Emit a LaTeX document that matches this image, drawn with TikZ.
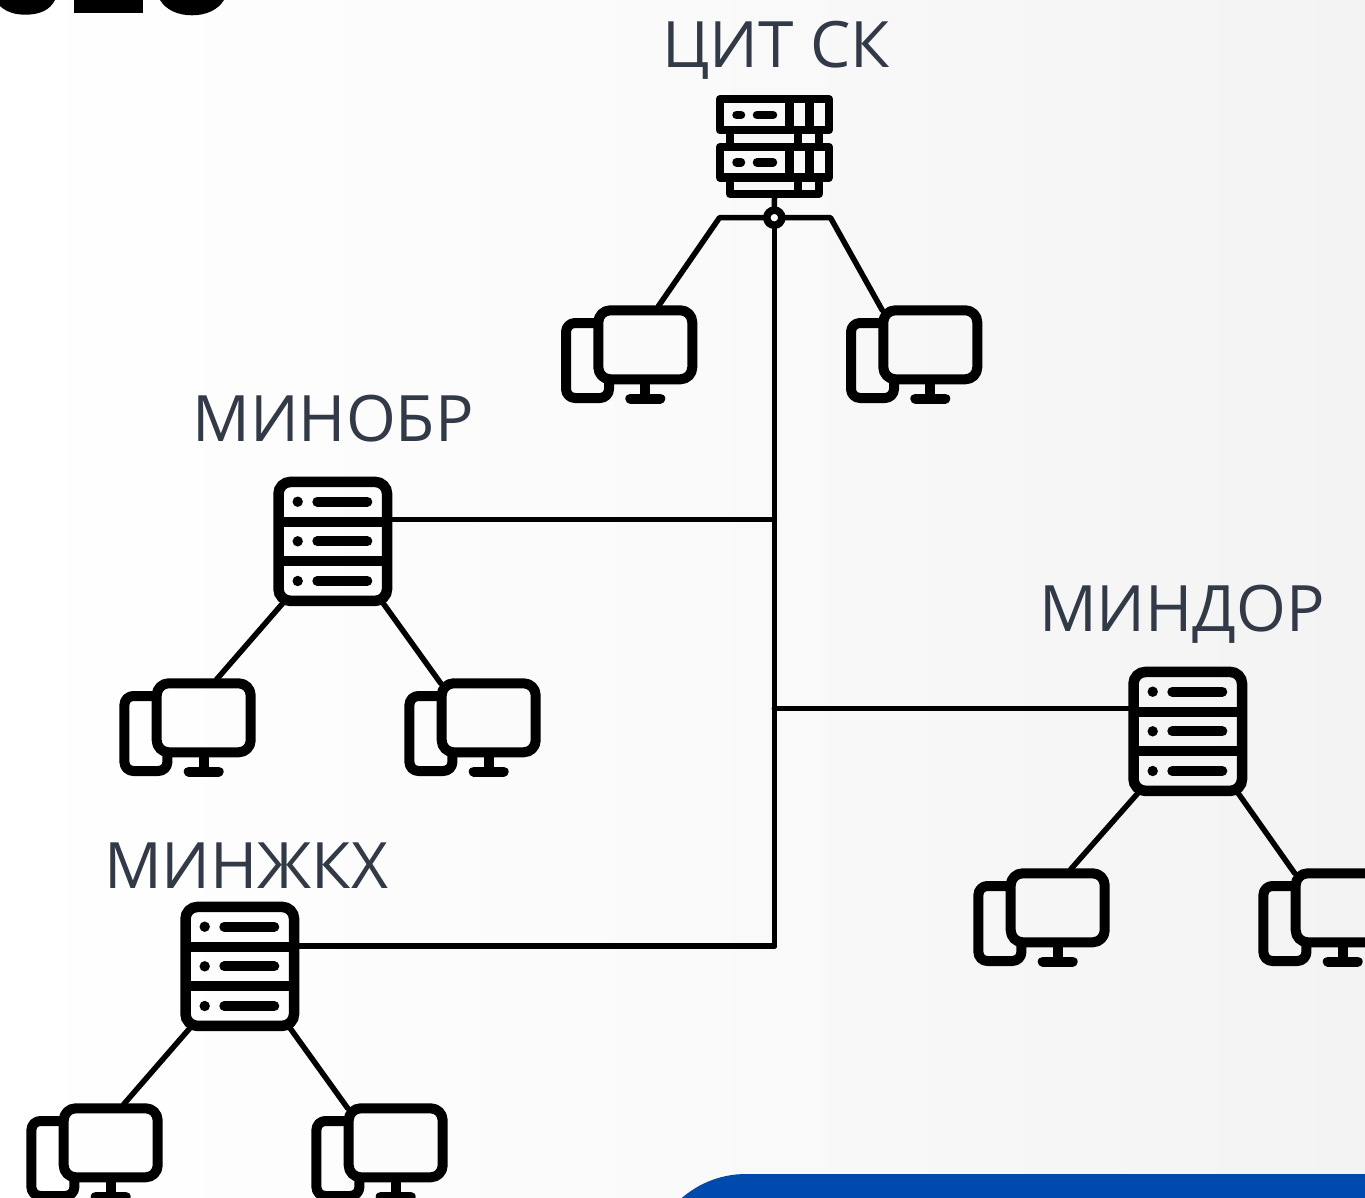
\documentclass[tikz,border=0pt]{standalone}
\usepackage{fontspec}
\setmainfont{Open Sans}
\definecolor{labelcol}{HTML}{333A47}
\definecolor{panelblue}{HTML}{004AAD}
\definecolor{bgright}{HTML}{F3F3F3}
\definecolor{bgmid}{HTML}{FAFAFA}
\tikzset{
  iconline/.style={line width=10pt,black,line join=round},
  thinicon/.style={line width=8.5pt,black},
  pillbar/.style={line width=10pt,black,line cap=round},
  wire/.style={line width=5.5pt,black,line cap=round,line join=round},
  lab/.style={font=\fontsize{64}{70}\selectfont,text=labelcol,inner sep=0pt,anchor=base},
  iconbox/.style={inner sep=0pt,outer sep=0pt,draw=none},
  computer/.pic={
    \draw[iconline,rounded corners=12pt] (5,5) rectangle (99,74);
    \draw[iconline,rounded corners=9pt] (5,17.7) -- (-27.3,17.7) -- (-27.3,92.7) -- (15.7,92.7) -- (15.7,76);
    \draw[iconline] (52,79) -- (52,93);
    \draw[iconline,line cap=round] (37,93.2) -- (67,93.2);
    \coordinate (-in1) at (65,1);
    \coordinate (-in2) at (4,5);
  },
  serverthree/.pic={
    \draw[line width=10.5pt,rounded corners=12pt] (5.2,5.2) rectangle (113.8,124.2);
    \draw[line width=10pt] (5.2,45) -- (113.8,45) (5.2,84.3) -- (113.8,84.3);
    \foreach \yy in {25,64.6,104.3}{
      \fill (24.4,\yy) circle (5.2);
      \draw[pillbar] (44,\yy) -- (94,\yy);
    }
    \coordinate (-e) at (118,42.8);
    \coordinate (-w) at (1,42);
    \coordinate (-dl) at (9.7,126.3);
    \coordinate (-dr) at (109.7,126.3);
  }
}
\begin{document}
\begin{tikzpicture}[x=1pt,y=-1pt]
\useasboundingbox (0,0) rectangle (1365,1198);
\clip (0,0) rectangle (1365,1198);
\shade[left color=white,right color=bgright,middle color=bgmid] (0,0) rectangle (1365,1198);

% clipped title remnants at the top edge
\fill[black] (-6,-2) .. controls (0,10) and (12,14.7) .. (25,14.7) .. controls (40,14.7) and (50,10) .. (55,0) -- (55,-2) -- cycle;
\fill[black] (73.7,-2) rectangle (142.7,13.3);
\fill[black] (160,0) .. controls (166,10) and (178,15.3) .. (192,15.3) .. controls (206,15.3) and (218,10) .. (224,0) -- (224,-2) -- (160,-2) -- cycle;

% blue panel
\fill[panelblue] (1365,1174) -- (746,1174) arc[start angle=270,end angle=180,radius=98] -- (1365,1272) -- cycle;

% labels
\node[lab] (tCit) at (776,68) {ЦИТ СК};
\node[lab] (tObr) at (333,441) {МИНОБР};
\node[lab] (tDor) at (1182,631) {МИНДОР};
\node[lab] (tZhk) at (246,888) {МИНЖКХ};

% top server
\begin{scope}[thinicon]
  \draw[line join=round] (720,99.2) rectangle (829,130);
  \draw[line join=round] (720,147) rectangle (829,177.5);
  \draw (789.3,99) -- (789.3,130) (809.3,99) -- (809.3,130);
  \draw (789.3,147) -- (789.3,177.5) (809.3,147) -- (809.3,177.5);
  \draw (730,130) -- (730,147) (819,130) -- (819,147);
  \draw (798,130) -- (798,147);
  \draw[line join=round] (730,177.5) -- (730,193.8) -- (819,193.8) -- (819,177.5);
  \draw (798,177.5) -- (798,193.8);
  \draw[line cap=round,line width=8.5pt] (736.5,115) -- (741,115) (757,115) -- (773,115);
  \draw[line cap=round,line width=8.5pt] (736.5,162.3) -- (741,162.3) (757,162.3) -- (773,162.3);
\end{scope}
\node[iconbox,minimum width=118pt,minimum height=103pt] (srvCit) at (774.5,146.5) {};
\node[circle,draw=black,fill=white,line width=7.5pt,minimum size=15pt,inner sep=0pt,outer sep=0pt] (junc) at (774.3,217.7) {};
\coordinate (jl) at (719.5,217.7);
\coordinate (jr) at (830.5,217.7);
\coordinate (spineEnd) at (774.3,946);

% servers
\pic (srvObr) at (273.3,476.7) {serverthree};
\pic (srvDor) at (1128.3,666.7) {serverthree};
\pic (srvZhk) at (180.3,901.7) {serverthree};

% computers
\pic (pcC1) at (593.3,305.3) {computer};
\pic (pcC2) at (878.3,305.3) {computer};
\pic (pcO1) at (151.7,678.3) {computer};
\pic (pcO2) at (436.7,678.3) {computer};
\pic (pcD1) at (1005.7,868.3) {computer};
\pic (pcD2) at (1290.7,868.3) {computer};
\pic (pcZ1) at (58.7,1103.3) {computer};
\pic (pcZ2) at (343.7,1103.3) {computer};

% connectors
\draw[wire] (srvCit.south) -- (junc.north);
\draw[wire] (junc.south) -- (spineEnd);
\draw[wire] (junc.west) -- (jl) -- (pcC1-in1);
\draw[wire] (junc.east) -- (jr) -- (pcC2-in2);
\draw[wire] (srvObr-e) -- (srvObr-e -| spineEnd);
\draw[wire] (srvDor-w -| spineEnd) -- (srvDor-w);
\draw[wire] (srvZhk-e |- spineEnd) -- (spineEnd);
\draw[wire] (srvObr-dl) -- (pcO1-in1);
\draw[wire] (srvObr-dr) -- (pcO2-in2);
\draw[wire] (srvDor-dl) -- (pcD1-in1);
\draw[wire] (srvDor-dr) -- (pcD2-in2);
\draw[wire] (srvZhk-dl) -- (pcZ1-in1);
\draw[wire] (srvZhk-dr) -- (pcZ2-in2);
\end{tikzpicture}
\end{document}
